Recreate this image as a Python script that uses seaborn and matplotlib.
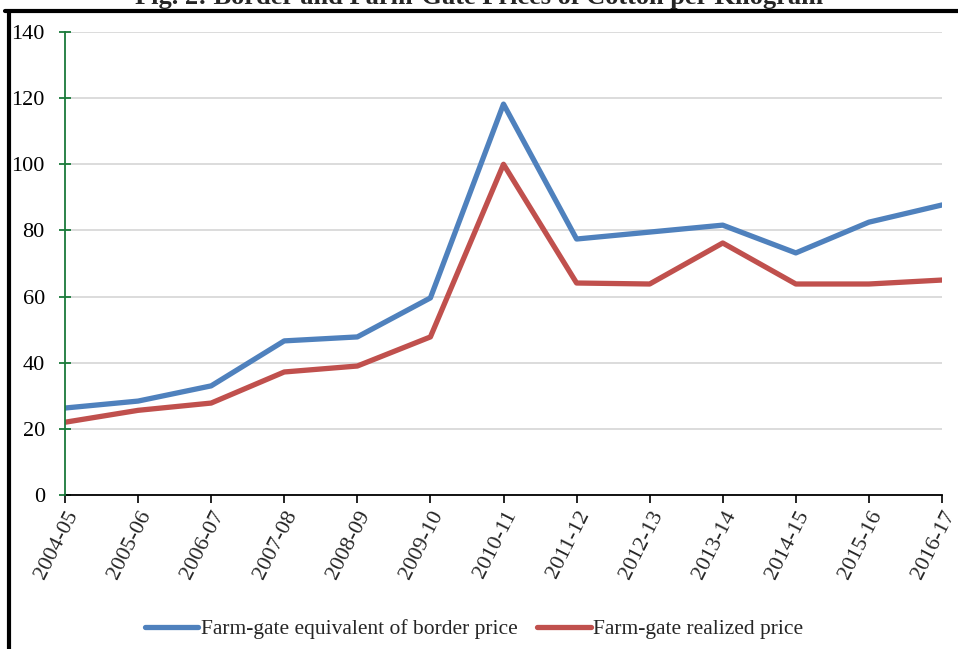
import numpy as np
import pandas as pd
import matplotlib
matplotlib.use("Agg")
import matplotlib.pyplot as plt
import seaborn as sns

# =============================
# DATA
# =============================
years = ["2004-05", "2005-06", "2006-07", "2007-08", "2008-09", "2009-10",
         "2010-11", "2011-12", "2012-13", "2013-14", "2014-15", "2015-16", "2016-17"]
border_price = [26.3, 28.4, 33.0, 46.6, 47.8, 59.6, 118.2, 77.4, 79.5, 81.6, 73.2, 82.5, 87.7]
realized_price = [22.0, 25.6, 27.8, 37.2, 39.0, 47.8, 100.0, 64.1, 63.8, 76.2, 63.8, 63.8, 65.0]
series_names = ["Farm-gate equivalent of border price", "Farm-gate realized price"]
title = "Fig. 2: Border and Farm-Gate Prices of Cotton per Kilogram"

df = pd.DataFrame({
    "year": years * 2,
    "idx": list(range(len(years))) * 2,
    "price": border_price + realized_price,
    "series": [series_names[0]] * len(years) + [series_names[1]] * len(years),
})

# =============================
# STYLE
# =============================
sns.set_style("white")
plt.rcParams["font.family"] = ["Liberation Serif", "DejaVu Serif"]

fig = plt.figure(figsize=(9.58, 6.49), dpi=100)
ax = fig.add_axes([65 / 958, 1 - 495 / 649, (942 - 65) / 958, (495 - 32) / 649])

sns.lineplot(data=df, x="idx", y="price", hue="series", ax=ax,
             palette=["#4f81bd", "#c0504d"], linewidth=3.8, legend=True)

ax.set_xlim(0, len(years) - 1)
ax.set_ylim(0, 140)
ax.set_yticks(np.arange(0, 141, 20))
ax.set_xticks(range(len(years)))
ax.set_xticklabels(years, rotation=63, ha="right", rotation_mode="anchor", fontsize=16)
ax.set_xlabel("")
ax.set_ylabel("")

ax.grid(axis="y", color="#d9d9d9", linewidth=1.3)
ax.set_axisbelow(True)
for s in ["top", "right"]:
    ax.spines[s].set_visible(False)
ax.spines["left"].set_color("#1a7a3a")
ax.spines["left"].set_linewidth(1.3)
ax.spines["bottom"].set_color("black")
ax.spines["bottom"].set_linewidth(1.3)
ax.spines["left"].set_zorder(3)
ax.tick_params(axis="y", which="major", left=True, direction="inout", length=9,
               width=1.3, color="#1a7a3a", labelcolor="black", labelsize=16, pad=10)
ax.tick_params(axis="x", which="major", bottom=True, direction="out", length=6,
               width=1.2, color="black", labelsize=16, pad=3)

# legend at bottom
leg = ax.legend(loc="center", bbox_to_anchor=(0.466, (495 - 629) / 463),
                ncol=2, frameon=False, fontsize=15.5, handlelength=2.5,
                handletextpad=0.1, columnspacing=0.9)
leg.set_title(None)

# title (cut off at top of screenshot) and frame lines
fig.text(0.5, 1.004, title, ha="center", va="center", fontsize=19, fontweight="bold")
fig.add_artist(plt.Line2D([5 / 958, 1], [1 - 11 / 649, 1 - 11 / 649],
                          color="black", linewidth=3, transform=fig.transFigure))
fig.add_artist(plt.Line2D([8.5 / 958, 8.5 / 958], [0, 1 - 11 / 649],
                          color="black", linewidth=3, transform=fig.transFigure))

fig.savefig("out.png", dpi=100)
plt.close(fig)
